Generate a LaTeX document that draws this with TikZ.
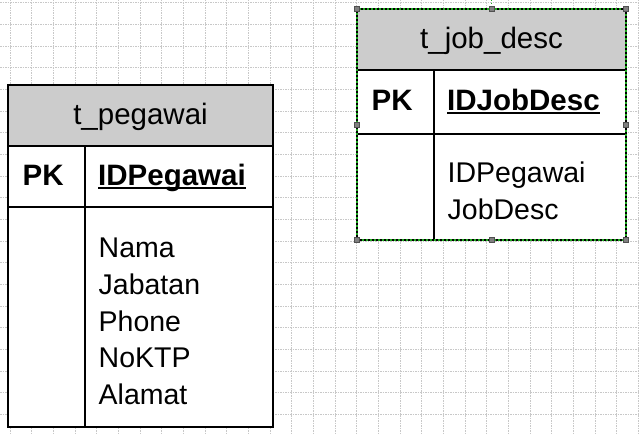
\documentclass[tikz,border=0pt]{standalone}
\usepackage{fontspec}
\setmainfont{Liberation Sans}
\definecolor{gridc}{RGB}{200,200,200}
\definecolor{headc}{RGB}{204,204,204}
\definecolor{selgreen}{RGB}{30,170,30}
\definecolor{handlef}{RGB}{128,128,128}
\definecolor{handled}{RGB}{80,80,80}
\tikzset{
  gridline/.style={draw=gridc, line width=0.8pt, dash pattern=on 1.5pt off 1pt},
  tabline/.style={draw=black, line width=2pt},
  headfill/.style={fill=headc},
  txt/.style={inner sep=0pt, anchor=base west, font=\fontsize{28.5}{33}\selectfont},
  ttl/.style={inner sep=0pt, anchor=base, font=\fontsize{29.5}{33}\selectfont},
  bold/.style={txt, font=\fontsize{29.5}{33}\selectfont\bfseries},
  uline/.style={draw=black, line width=2pt},
  handle/.style={fill=handlef, draw=handled, line width=0.6pt},
  selbox/.style={draw=selgreen, line width=1.6pt, dash pattern=on 2pt off 2pt}
}
\begin{document}
\begin{tikzpicture}[x=1pt, y=-1pt]
\useasboundingbox (0,0) rectangle (640,435);
\fill[white] (0,0) rectangle (640,435);
% grid
\begin{scope}
\clip (0,0) rectangle (640,435);
\foreach \i in {0,...,29} {
  \draw[gridline] ({10+21.667*\i},0) -- ({10+21.667*\i},435);
}
\foreach \j in {0,...,19} {
  \draw[gridline] (0,{2.7+21.667*\j}) -- (640,{2.7+21.667*\j});
}
\end{scope}

% ---------- t_pegawai ----------
\fill[white] (8,85) rectangle (273,427);
\fill[headfill] (8,85) rectangle (273,146);
\draw[tabline] (8,85) rectangle (273,427);
\draw[tabline] (8,146) -- (273,146);
\draw[tabline] (8,207) -- (273,207);
\draw[tabline] (85,146) -- (85,427);
\node[ttl] (pegTitle) at (140.5,124.5) {t\_pegawai};
\node[bold] (pegPK) at (22.5,186) {PK};
\node[bold] (pegID) at (98,186) {IDPegawai};
\draw[uline] ([yshift=-2.5pt]pegID.base west) -- ([yshift=-2.5pt]pegID.base east);
\node[txt] (pegF1) at (98.5,258) {Nama};
\node[txt] (pegF2) at (98.5,295) {Jabatan};
\node[txt] (pegF3) at (98.5,331.5) {Phone};
\node[txt] (pegF4) at (98.5,368) {NoKTP};
\node[txt] (pegF5) at (98.5,404.5) {Alamat};

% ---------- t_job_desc ----------
\fill[white] (357,9) rectangle (626,240);
\fill[headfill] (357,9) rectangle (626,70);
\draw[tabline] (357,9) rectangle (626,240);
\draw[tabline] (357,70) -- (626,70);
\draw[tabline] (357,134) -- (626,134);
\draw[tabline] (434,70) -- (434,240);
\node[ttl] (jobTitle) at (491.5,48.5) {t\_job\_desc};
\node[bold] (jobPK) at (371.5,111) {PK};
\node[bold] (jobID) at (447,111) {IDJobDesc};
\draw[uline] ([yshift=-2.5pt]jobID.base west) -- ([yshift=-2.5pt]jobID.base east);
\node[txt] (jobF1) at (447.5,183) {IDPegawai};
\node[txt] (jobF2) at (447.5,219.5) {JobDesc};

% selection
\draw[selbox] (357,9) rectangle (626,240);
\draw[selgreen, line width=0.8pt, dash pattern=on 1.5pt off 1.5pt] (491.5,0) -- (491.5,9);
\foreach \p in {(357,9),(491.5,9),(626,9),(357,124.5),(626,124.5),(357,240),(491.5,240),(626,240)} {
  \path \p coordinate (h);
  \draw[handle] ([shift={(-2.5,-2.5)}]h) rectangle ([shift={(2.5,2.5)}]h);
}
\end{tikzpicture}
\end{document}
